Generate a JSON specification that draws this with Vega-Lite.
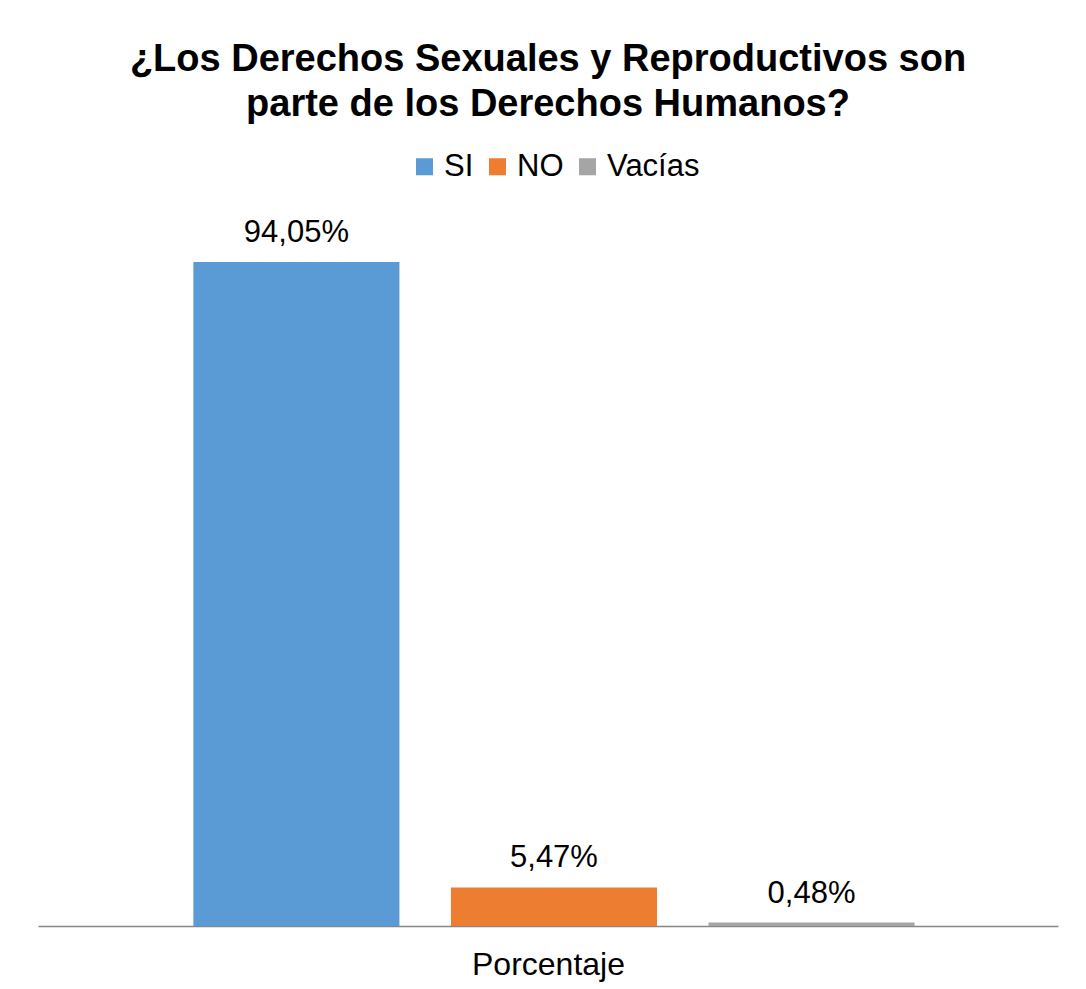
{
  "$schema": "https://vega.github.io/schema/vega-lite/v6.json",
  "width": 1020,
  "height": 706,
  "autosize": {"type": "none"},
  "padding": {"left": 38, "top": 220, "right": 28, "bottom": 63},
  "background": "white",
  "title": {
    "text": ["¿Los Derechos Sexuales y Reproductivos son", "parte de los Derechos Humanos?"],
    "font": "Liberation Sans",
    "fontSize": 38,
    "fontWeight": "bold",
    "color": "#000000",
    "lineHeight": 45,
    "anchor": "middle",
    "offset": 27
  },
  "data": {
    "values": [
      {"serie": "SI", "valor": 94.05, "etiqueta": "94,05%"},
      {"serie": "NO", "valor": 5.47, "etiqueta": "5,47%"},
      {"serie": "Vacías", "valor": 0.48, "etiqueta": "0,48%"}
    ]
  },
  "encoding": {
    "x": {
      "field": "serie",
      "type": "nominal",
      "sort": ["SI", "NO", "Vacías"],
      "scale": {"paddingInner": 0.2, "paddingOuter": 0.58, "align": 0.52},
      "axis": {
        "title": "Porcentaje",
        "labels": false,
        "ticks": false,
        "domainColor": "#868686",
        "domainWidth": 1.3,
        "titleFont": "Liberation Sans",
        "titleFontSize": 32,
        "titleFontWeight": "normal",
        "titleColor": "#000000",
        "titlePadding": 23
      }
    },
    "y": {
      "field": "valor",
      "type": "quantitative",
      "scale": {"domain": [0, 100]},
      "axis": null
    }
  },
  "layer": [
    {
      "mark": {"type": "bar"},
      "encoding": {
        "color": {
          "field": "serie",
          "type": "nominal",
          "sort": ["SI", "NO", "Vacías"],
          "scale": {"domain": ["SI", "NO", "Vacías"], "range": ["#5B9BD5", "#ED7D31", "#A5A5A5"]},
          "legend": {
            "title": null,
            "orient": "none",
            "direction": "horizontal",
            "legendX": 371,
            "legendY": -69,
            "symbolType": "square",
            "symbolSize": 290,
            "symbolStrokeWidth": 0,
            "labelFont": "Liberation Sans",
            "labelFontSize": 31,
            "labelColor": "#000000",
            "labelOffset": 4,
            "columnPadding": 8
          }
        }
      }
    },
    {
      "mark": {"type": "text", "baseline": "bottom", "dy": -13, "font": "Liberation Sans", "fontSize": 31, "color": "#000000"},
      "encoding": {"text": {"field": "etiqueta"}}
    }
  ],
  "config": {"view": {"stroke": null}}
}
